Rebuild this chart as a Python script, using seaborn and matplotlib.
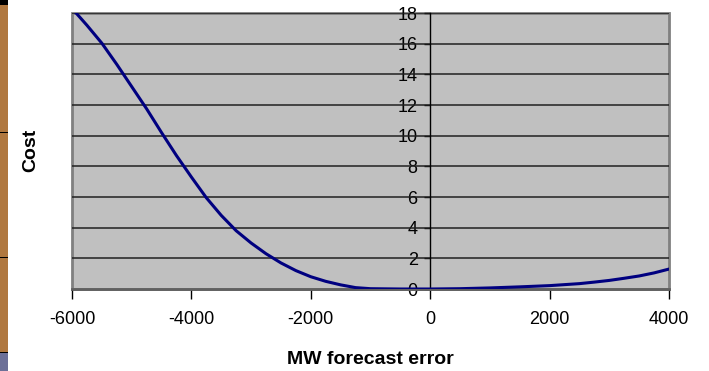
import matplotlib
matplotlib.use("Agg")
import matplotlib.pyplot as plt
from matplotlib.patches import Rectangle
import seaborn as sns
import pandas as pd

# valeurs
forecast_error = [-6000, -5750, -5500, -5250, -5000, -4750, -4500, -4250, -4000,
                  -3750, -3500, -3250, -3000, -2750, -2500, -2250, -2000, -1750,
                  -1500, -1250, -1000, -500, 0, 500, 1000, 1500, 2000, 2500,
                  2750, 3000, 3250, 3500, 3750, 4000]
cost = [18.3, 17.2, 16.03, 14.65, 13.2, 11.75, 10.2, 8.7, 7.3,
        5.95, 4.8, 3.8, 3.0, 2.3, 1.7, 1.2, 0.8, 0.5,
        0.27, 0.09, 0.02, 0.0, 0.0, 0.02, 0.07, 0.14, 0.22, 0.35,
        0.45, 0.56, 0.7, 0.85, 1.05, 1.3]
x_ticks = [-6000, -4000, -2000, 0, 2000, 4000]
y_ticks = [0, 2, 4, 6, 8, 10, 12, 14, 16, 18]

df = pd.DataFrame({"error": forecast_error, "cost": cost})

sns.set_theme(style="white")
plt.rcParams["font.family"] = ["Liberation Sans", "DejaVu Sans"]
plt.rcParams["axes.unicode_minus"] = False
plt.rcParams["text.color"] = "black"
plt.rcParams["xtick.color"] = "black"
plt.rcParams["ytick.color"] = "black"

fig = plt.figure(figsize=(7.09, 3.71), dpi=100)
ax = fig.add_axes([72 / 709, 1 - 289 / 371, 597 / 709, 276 / 371])

ax.set_facecolor("#C0C0C0")
ax.patch.set_edgecolor("#808080")
ax.patch.set_linewidth(2)

for y in y_ticks[1:]:
    ax.axhline(y, color="#202020", lw=1.1, zorder=1)

sns.lineplot(data=df, x="error", y="cost", ax=ax, color="#000080", lw=2.2, zorder=3)

ax.set_xlim(-6000, 4000)
ax.set_ylim(0, 18)
ax.set_xticks(x_ticks)
ax.set_yticks(y_ticks)

ax.spines["left"].set_position(("data", 0))
ax.spines["left"].set_color("black")
ax.spines["left"].set_linewidth(1)
ax.spines["left"].set_zorder(2)
ax.spines["bottom"].set_color("#606060")
ax.spines["bottom"].set_linewidth(2)
ax.spines["top"].set_visible(False)
ax.spines["right"].set_visible(False)

ax.tick_params(axis="x", direction="out", length=7, width=1, color="black",
               labelsize=13, pad=9, bottom=True, labelcolor="black")
ax.tick_params(axis="y", direction="out", length=4, width=1, color="black",
               labelsize=13, pad=5, left=True, labelcolor="black")
for lab in ax.get_yticklabels():
    lab.set_zorder(4)

ax.set_xlabel("")
ax.set_ylabel("")
fig.text(370 / 709, 1 - 359 / 371, "MW forecast error", ha="center", va="center",
         fontsize=14, fontweight="bold", color="black")
fig.text(31 / 709, 1 - 150 / 371, "Cost", ha="center", va="center",
         fontsize=14, fontweight="bold", rotation=90, color="black")

# bande décorative à gauche
fig.add_artist(Rectangle((0, 0), 8 / 709, 1, transform=fig.transFigure,
                         facecolor="#B07840", edgecolor="none"))
fig.add_artist(Rectangle((0, 1 - 5 / 371), 8 / 709, 5 / 371, transform=fig.transFigure,
                         facecolor="black", edgecolor="none"))
fig.add_artist(Rectangle((0, 0), 8 / 709, 18 / 371, transform=fig.transFigure,
                         facecolor="#6C7098", edgecolor="none"))
for yy in [133, 258, 353]:
    fig.add_artist(Rectangle((0, 1 - yy / 371), 8 / 709, 1.2 / 371, transform=fig.transFigure,
                             facecolor="black", edgecolor="none"))

fig.savefig("out.png", dpi=100)
